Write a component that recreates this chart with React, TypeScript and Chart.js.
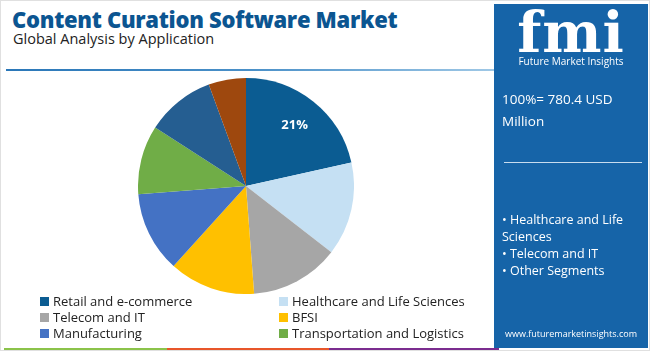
import React, { useEffect, useRef } from "react";
import { Chart, registerables } from "chart.js";

Chart.register(...registerables);

const categories = [
  "Retail and e-commerce",
  "Healthcare and Life Sciences",
  "Telecom and IT",
  "BFSI",
  "Manufacturing",
  "Transportation and Logistics",
  "Media and Entertainment",
  "Others",
];
const shares = [21.5, 14.0, 13.3, 12.9, 12.1, 10.3, 10.3, 5.6];
const sliceColors = [
  "#0b5c92",
  "#c5e0f3",
  "#a6a6a6",
  "#ffc000",
  "#4472c4",
  "#70ad47",
  "#255e91",
  "#9e480e",
];
const shownLabels = ["21%", "", "", "", "", "", "", ""];
const legendCount = 6;
const panelBullets = ["• Healthcare and Life Sciences", "• Telecom and IT", "• Other Segments"];

const FONT = "'Open Sans', 'Noto Sans', sans-serif";

const sliceLabelPlugin = {
  id: "sliceLabels",
  afterDatasetsDraw(chart: any) {
    const ctx = chart.ctx;
    const meta = chart.getDatasetMeta(0);
    meta.data.forEach((arc: any, i: number) => {
      const txt = shownLabels[i];
      if (!txt) return;
      const mid = (arc.startAngle + arc.endAngle) / 2;
      const r = arc.outerRadius * 0.72;
      const x = arc.x + Math.cos(mid) * r;
      const y = arc.y + Math.sin(mid) * r;
      ctx.save();
      ctx.fillStyle = "#ffffff";
      ctx.font = `bold 13px ${FONT}`;
      ctx.textAlign = "center";
      ctx.textBaseline = "middle";
      ctx.fillText(txt, x, y);
      ctx.restore();
    });
  },
};

export default function App() {
  const ref = useRef<HTMLCanvasElement | null>(null);
  useEffect(() => {
    if (!ref.current) return;
    const chart = new Chart(ref.current, {
      type: "pie",
      data: {
        labels: categories,
        datasets: [
          {
            data: shares,
            backgroundColor: sliceColors,
            borderWidth: 0,
          },
        ],
      },
      options: {
        animation: false,
        responsive: false,
        maintainAspectRatio: false,
        layout: { padding: 0 },
        plugins: {
          legend: { display: false },
          tooltip: { enabled: false },
        },
      },
      plugins: [sliceLabelPlugin],
    });
    return () => chart.destroy();
  }, []);

  return (
    <div
      style={{
        position: "fixed",
        left: 0,
        top: 0,
        width: 650,
        height: 351,
        background: "#ffffff",
        fontFamily: FONT,
        overflow: "hidden",
        boxSizing: "border-box",
        border: "1px solid #e0e0e0",
      }}
    >
      <div
        style={{
          position: "absolute",
          left: 11,
          top: 3,
          fontSize: 22,
          fontWeight: 800,
          color: "#0b5591",
          whiteSpace: "nowrap",
          letterSpacing: -0.3,
        }}
      >
        Content Curation Software Market
      </div>
      <div
        style={{
          position: "absolute",
          left: 12,
          top: 28,
          fontSize: 14.5,
          color: "#222",
          whiteSpace: "nowrap",
        }}
      >
        Global Analysis by Application
      </div>
      <div
        style={{
          position: "absolute",
          left: 5,
          top: 68,
          width: 488,
          height: 2,
          background: "linear-gradient(90deg, #2a77b8, #4a90c8, #9fc8e6)",
        }}
      />
      <canvas
        ref={ref}
        width={216}
        height={216}
        style={{ position: "absolute", left: 137, top: 77, width: 216, height: 216 }}
      />
      {categories.slice(0, legendCount).map((c, i) => {
        const col = i % 2;
        const row = Math.floor(i / 2);
        return (
          <div
            key={c}
            style={{
              position: "absolute",
              left: col === 0 ? 39 : 278,
              top: 291 + row * 16,
              fontSize: 13,
              color: "#222",
              whiteSpace: "nowrap",
              display: "flex",
              alignItems: "center",
            }}
          >
            <span
              style={{
                display: "inline-block",
                width: 9,
                height: 9,
                background: sliceColors[i],
                marginRight: 4,
              }}
            />
            {c}
          </div>
        );
      })}
      <div style={{ position: "absolute", left: 3, top: 347, width: 163, height: 3, background: "#8bc34a" }} />
      <div style={{ position: "absolute", left: 166, top: 347, width: 162, height: 3, background: "#e8562a" }} />
      <div style={{ position: "absolute", left: 328, top: 347, width: 170, height: 3, background: "#7b2c8f" }} />
      <div
        style={{
          position: "absolute",
          left: 493,
          top: 3,
          width: 154,
          height: 344,
          background: "#1664a8",
          color: "#ffffff",
        }}
      >
        <div
          style={{
            position: "absolute",
            left: 0,
            top: 0,
            width: 154,
            textAlign: "center",
            fontSize: 56,
            fontWeight: 800,
            lineHeight: "56px",
            fontFamily: "'DejaVu Serif', serif",
            letterSpacing: 1,
          }}
        >
          fmi
        </div>
        <div
          style={{
            position: "absolute",
            left: 0,
            top: 50,
            width: 154,
            textAlign: "center",
            fontSize: 10,
            whiteSpace: "nowrap",
          }}
        >
          Future Market Insights
        </div>
        <div
          style={{
            position: "absolute",
            left: 8,
            top: 84,
            fontSize: 13.5,
            lineHeight: "22px",
            width: 140,
          }}
        >
          100%= 780.4 USD Million
        </div>
        <div
          style={{
            position: "absolute",
            left: 10,
            top: 158,
            width: 138,
            height: 1,
            background: "#c8dcef",
          }}
        />
        <div
          style={{
            position: "absolute",
            left: 8,
            top: 207,
            width: 142,
            fontSize: 12.5,
            lineHeight: "17px",
          }}
        >
          {panelBullets.map((b) => (
            <div key={b}>{b}</div>
          ))}
        </div>
        <div
          style={{
            position: "absolute",
            left: 0,
            top: 323,
            width: 154,
            textAlign: "center",
            fontSize: 9,
            whiteSpace: "nowrap",
          }}
        >
          www.futuremarketinsights.com
        </div>
      </div>
    </div>
  );
}
